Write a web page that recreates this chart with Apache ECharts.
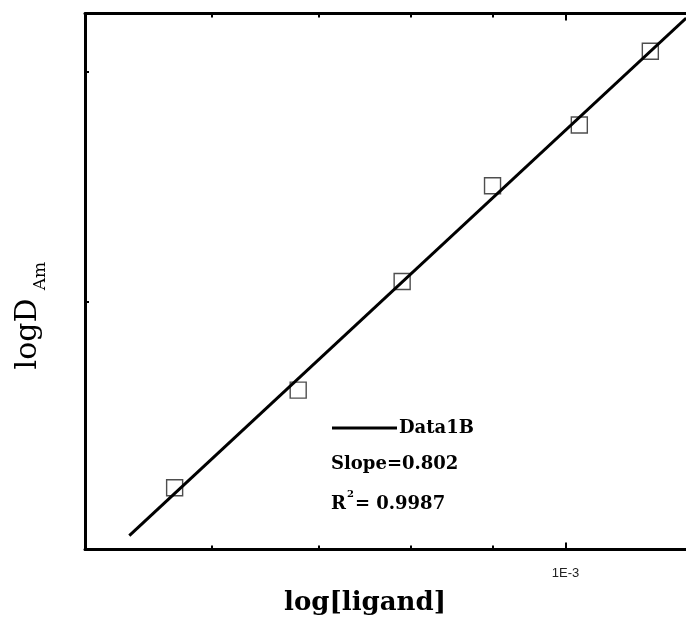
<!DOCTYPE html>
<html>
<head>
<meta charset="utf-8">
<script src="https://cdn.jsdelivr.net/npm/echarts@6/dist/echarts.min.js"></script>
<style>
  html, body { margin: 0; padding: 0; background: #fff; }
  #main { width: 686px; height: 622px; }
</style>
</head>
<body>
<div id="main"></div>
<script>
// ligand concentration (M) and log D of the measured points
var ligand = [5.69e-4, 6.80e-4, 7.90e-4, 9.00e-4, 1.02e-3, 1.13e-3];
var logD = [0.399, 0.452, 0.511, 0.563, 0.596, 0.636];

// ends of the fitted line (Data1B)
var fitLigand = [5.33e-4, 1.19e-3];
var fitLogD = [0.373, 0.654];

// axis ranges and ticks
var xRange = [5e-4, 1.2e-3];
var xMajor = [1e-3];
var xMinor = [6e-4, 7e-4, 8e-4, 9e-4];
var yRange = [0.3655, 0.6565];
var yTicks = [0.5, 0.625];

var fitText = ['Slope=0.802', '0.9987'];

var serif = 'DejaVu Serif';

var chartDom = document.getElementById('main');
var myChart = echarts.init(chartDom, null, { renderer: 'canvas' });

function lg(v) { return Math.log10(v); }

// plot box runs a little past the right edge of the picture
var gridBox = { left: 85, top: 13.5, width: 607, height: 536, containLabel: false, outerBoundsMode: 'none' };

function xAxisOf(gridIndex, position, ticks, len, withLine, withLabel) {
  return {
    type: 'value',
    gridIndex: gridIndex,
    position: position,
    min: lg(xRange[0]),
    max: lg(xRange[1]),
    splitLine: { show: false },
    axisLine: { show: withLine, onZero: false, lineStyle: { color: '#000', width: 3 } },
    axisTick: {
      show: true, inside: true, length: len,
      customValues: ticks.map(lg),
      lineStyle: { color: '#000', width: 2 }
    },
    axisLabel: {
      show: withLabel,
      customValues: xMajor.map(lg),
      margin: 17,
      color: '#222',
      fontFamily: 'Liberation Sans',
      fontSize: 13,
      formatter: function (v) {
        return Math.pow(10, v).toExponential(0).toUpperCase().replace('+', '');
      }
    }
  };
}

var pts = ligand.map(function (x, i) { return [lg(x), logD[i]]; });
var fit = fitLigand.map(function (x, i) { return [lg(x), fitLogD[i]]; });

var option = {
  animation: false,
  backgroundColor: '#fff',
  grid: [
    Object.assign({}, gridBox),
    Object.assign({}, gridBox)
  ],
  xAxis: [
    xAxisOf(0, 'bottom', xMajor, 7, true, true),
    xAxisOf(0, 'top', xMajor, 7, true, false),
    xAxisOf(1, 'bottom', xMinor, 4, false, false),
    xAxisOf(1, 'top', xMinor, 4, false, false)
  ],
  yAxis: [
    {
      type: 'value',
      gridIndex: 0,
      position: 'left',
      min: yRange[0],
      max: yRange[1],
      splitLine: { show: false },
      axisLine: { show: true, onZero: false, lineStyle: { color: '#000', width: 3 } },
      axisTick: {
        show: true, inside: true, length: 4,
        customValues: yTicks,
        lineStyle: { color: '#000', width: 2 }
      },
      axisLabel: { show: false }
    },
    {
      type: 'value',
      gridIndex: 1,
      min: yRange[0],
      max: yRange[1],
      show: false
    }
  ],
  legend: {
    data: [{ name: 'Data1B', icon: 'rect' }],
    left: 332,
    top: 419,
    padding: 0,
    itemWidth: 65,
    itemHeight: 3,
    itemGap: 0,
    textStyle: { fontFamily: serif, fontWeight: 'bold', fontSize: 18, color: '#000', padding: [0, 0, 0, -3] }
  },
  series: [
    {
      name: 'points',
      type: 'scatter',
      xAxisIndex: 0,
      yAxisIndex: 0,
      data: pts,
      symbol: 'rect',
      symbolSize: 16,
      itemStyle: { color: 'rgba(255,255,255,0)', borderColor: '#222', borderWidth: 1.4 },
      z: 2
    },
    {
      name: 'Data1B',
      type: 'line',
      xAxisIndex: 0,
      yAxisIndex: 0,
      data: fit,
      symbol: 'none',
      color: '#000',
      itemStyle: { color: '#000' },
      lineStyle: { color: '#000', width: 3 },
      z: 3
    }
  ],
  graphic: [
    {
      type: 'text', left: 331, top: 455,
      style: { text: fitText[0], fontFamily: serif, fontWeight: 'bold', fontSize: 18, fill: '#000' }
    },
    {
      type: 'text', left: 331, top: 489,
      style: {
        text: '{b|R}{s|2}{b|= ' + fitText[1] + '}',
        rich: {
          b: { fontFamily: serif, fontWeight: 'bold', fontSize: 18, lineHeight: 24, verticalAlign: 'bottom' },
          s: { fontFamily: serif, fontWeight: 'bold', fontSize: 10, lineHeight: 24, verticalAlign: 'top', padding: [0, 1, 0, 1] }
        },
        fill: '#000'
      }
    },
    {
      type: 'text', x: 365, y: 603,
      style: { text: 'log[ligand]', fontFamily: serif, fontWeight: 'bold', fontSize: 26, fill: '#000', align: 'center', verticalAlign: 'middle' }
    },
    {
      type: 'text', x: 28, y: 334, rotation: Math.PI / 2,
      style: { text: 'logD', fontFamily: serif, fontSize: 30, fill: '#000', align: 'center', verticalAlign: 'middle' }
    },
    {
      type: 'text', x: 41, y: 276, rotation: Math.PI / 2,
      style: { text: 'Am', fontFamily: serif, fontSize: 17, fill: '#000', align: 'center', verticalAlign: 'middle' }
    }
  ]
};

myChart.setOption(option);
window.addEventListener('resize', function () {
  myChart.resize();
});
</script>
</body>
</html>
